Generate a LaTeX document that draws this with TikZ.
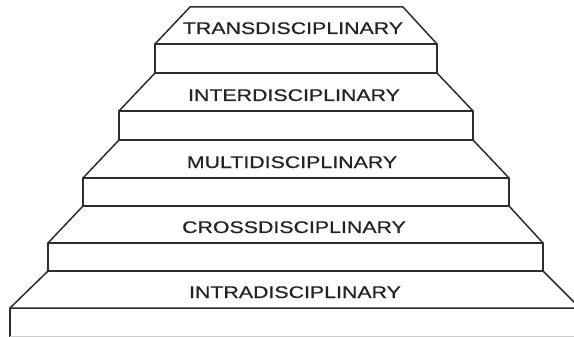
\documentclass[tikz,border=0pt]{standalone}
\usepackage{fontspec}
\setsansfont{Liberation Sans}[FakeBold=0.5]
\RequirePackage{xcolor}
\definecolor{stairline}{RGB}{45,45,45}
\definecolor{stairtext}{RGB}{35,35,35}
\tikzset{every picture/.style={/utils/exec={\sffamily}}}
\tikzset{
  stair/.style={draw=stairline, line width=1.5pt, line join=round},
  stairlabel/.style={text=stairtext, anchor=base, inner sep=0pt, font=\fontsize{16.8}{20}\selectfont},
}

\begin{document}
\begin{tikzpicture}[x=1pt, y=-1pt]
  \useasboundingbox (0,0) rectangle (574,337);
  \clip (0,0) rectangle (574,337);

  % step 5 (top)
  \draw[stair] (190,7) -- (403,7) -- (437,44) -- (155,44) -- cycle;
  \draw[stair] (155,44) rectangle (437,73);
  \node[stairlabel] (trans) at (293,34) {\scalebox{1.27}[1]{TRANSDISCIPLINARY}};

  % step 4
  \draw[stair] (155,73) -- (437,73) -- (473,111) -- (119,111) -- cycle;
  \draw[stair] (119,111) rectangle (473,140);
  \node[stairlabel] (inter) at (294,101) {\scalebox{1.27}[1]{INTERDISCIPLINARY}};

  % step 3
  \draw[stair] (119,140) -- (473,140) -- (509,178) -- (83,178) -- cycle;
  \draw[stair] (83,178) rectangle (509,206);
  \node[stairlabel] (multi) at (292,168) {\scalebox{1.27}[1]{MULTIDISCIPLINARY}};

  % step 2
  \draw[stair] (83,206) -- (509,206) -- (543,243) -- (48,243) -- cycle;
  \draw[stair] (48,243) rectangle (543,271);
  \node[stairlabel] (cross) at (294,233) {\scalebox{1.27}[1]{CROSSDISCIPLINARY}};

  % step 1 (bottom, runs off the page)
  \draw[stair] (48,271) -- (543,271) -- (580,308) -- (10,308) -- cycle;
  \draw[stair] (10,337) -- (10,308);
  \draw[black!20, line width=1pt] (10,336.5) -- (574,336.5);
  \node[stairlabel] (intra) at (295,298) {\scalebox{1.27}[1]{INTRADISCIPLINARY}};
\end{tikzpicture}
\end{document}
